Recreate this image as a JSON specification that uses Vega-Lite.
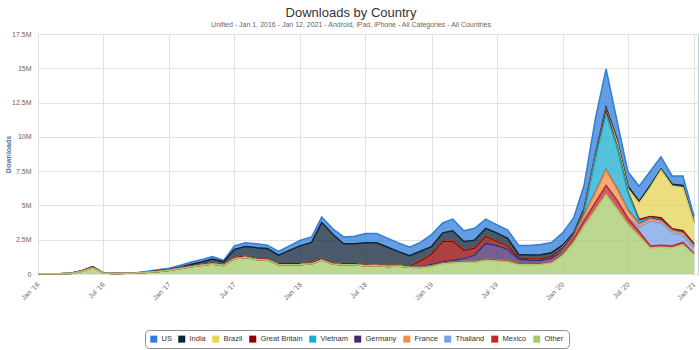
{
  "$schema": "https://vega.github.io/schema/vega-lite/v6.json",
  "width": 660,
  "height": 240,
  "autosize": {"type": "none"},
  "padding": {"left": 38, "top": 34, "right": 2, "bottom": 76},
  "background": "white",
  "title": {
    "text": "Downloads by Country",
    "subtitle": "Unified - Jan 1, 2016 - Jan 12, 2021 - Android, iPad, iPhone - All Categories - All Countries",
    "anchor": "middle",
    "frame": "bounds",
    "font": "Liberation Sans",
    "subtitleFont": "Liberation Sans",
    "fontSize": 13,
    "fontWeight": "normal",
    "color": "#333333",
    "subtitleFontSize": 7,
    "subtitleColor": "#666666",
    "subtitlePadding": 1,
    "offset": 2
  },
  "data": {
    "values": [
      {"date": "2016-01-01", "US": 0.01, "India": 0, "Brazil": 0, "Great Britain": 0, "Vietnam": 0, "Germany": 0, "France": 0, "Thailand": 0, "Mexico": 0, "Other": 0.01},
      {"date": "2016-02-01", "US": 0.005, "India": 0, "Brazil": 0, "Great Britain": 0, "Vietnam": 0, "Germany": 0, "France": 0, "Thailand": 0, "Mexico": 0, "Other": 0.015},
      {"date": "2016-03-01", "US": 0.005, "India": 0, "Brazil": 0, "Great Britain": 0, "Vietnam": 0, "Germany": 0, "France": 0, "Thailand": 0, "Mexico": 0, "Other": 0.02},
      {"date": "2016-04-01", "US": 0.01, "India": 0, "Brazil": 0, "Great Britain": 0.01, "Vietnam": 0, "Germany": 0, "France": 0, "Thailand": 0, "Mexico": 0, "Other": 0.04},
      {"date": "2016-05-01", "US": 0.01, "India": 0, "Brazil": 0, "Great Britain": 0.03, "Vietnam": 0, "Germany": 0, "France": 0, "Thailand": 0, "Mexico": 0.01, "Other": 0.18},
      {"date": "2016-06-01", "US": 0.02, "India": 0, "Brazil": 0, "Great Britain": 0.06, "Vietnam": 0, "Germany": 0, "France": 0, "Thailand": 0, "Mexico": 0.02, "Other": 0.44},
      {"date": "2016-07-01", "US": 0.01, "India": 0, "Brazil": 0, "Great Britain": 0.01, "Vietnam": 0, "Germany": 0, "France": 0, "Thailand": 0, "Mexico": 0, "Other": 0.07},
      {"date": "2016-08-01", "US": 0.01, "India": 0, "Brazil": 0, "Great Britain": 0, "Vietnam": 0, "Germany": 0, "France": 0, "Thailand": 0, "Mexico": 0, "Other": 0.04},
      {"date": "2016-09-01", "US": 0.01, "India": 0.005, "Brazil": 0, "Great Britain": 0, "Vietnam": 0, "Germany": 0, "France": 0, "Thailand": 0, "Mexico": 0, "Other": 0.05},
      {"date": "2016-10-01", "US": 0.02, "India": 0.01, "Brazil": 0, "Great Britain": 0, "Vietnam": 0, "Germany": 0, "France": 0, "Thailand": 0, "Mexico": 0, "Other": 0.07},
      {"date": "2016-11-01", "US": 0.05, "India": 0.02, "Brazil": 0, "Great Britain": 0, "Vietnam": 0, "Germany": 0, "France": 0, "Thailand": 0, "Mexico": 0, "Other": 0.13},
      {"date": "2016-12-01", "US": 0.08, "India": 0.03, "Brazil": 0, "Great Britain": 0.02, "Vietnam": 0, "Germany": 0, "France": 0, "Thailand": 0, "Mexico": 0, "Other": 0.18},
      {"date": "2017-01-01", "US": 0.09, "India": 0.03, "Brazil": 0, "Great Britain": 0.03, "Vietnam": 0, "Germany": 0, "France": 0, "Thailand": 0, "Mexico": 0, "Other": 0.27},
      {"date": "2017-02-01", "US": 0.14, "India": 0.05, "Brazil": 0, "Great Britain": 0.05, "Vietnam": 0, "Germany": 0, "France": 0, "Thailand": 0, "Mexico": 0, "Other": 0.4},
      {"date": "2017-03-01", "US": 0.16, "India": 0.13, "Brazil": 0, "Great Britain": 0.05, "Vietnam": 0, "Germany": 0, "France": 0, "Thailand": 0, "Mexico": 0, "Other": 0.52},
      {"date": "2017-04-01", "US": 0.17, "India": 0.18, "Brazil": 0, "Great Britain": 0.07, "Vietnam": 0, "Germany": 0, "France": 0, "Thailand": 0, "Mexico": 0, "Other": 0.63},
      {"date": "2017-05-01", "US": 0.17, "India": 0.3, "Brazil": 0, "Great Britain": 0.08, "Vietnam": 0, "Germany": 0, "France": 0, "Thailand": 0, "Mexico": 0, "Other": 0.72},
      {"date": "2017-06-01", "US": 0.09, "India": 0.19, "Brazil": 0, "Great Britain": 0.07, "Vietnam": 0, "Germany": 0, "France": 0, "Thailand": 0, "Mexico": 0, "Other": 0.63},
      {"date": "2017-07-01", "US": 0.25, "India": 0.6, "Brazil": 0, "Great Britain": 0.08, "Vietnam": 0, "Germany": 0, "France": 0, "Thailand": 0, "Mexico": 0, "Other": 1.12},
      {"date": "2017-08-01", "US": 0.27, "India": 0.7, "Brazil": 0, "Great Britain": 0.08, "Vietnam": 0, "Germany": 0, "France": 0, "Thailand": 0, "Mexico": 0, "Other": 1.22},
      {"date": "2017-09-01", "US": 0.28, "India": 0.8, "Brazil": 0, "Great Britain": 0.07, "Vietnam": 0, "Germany": 0, "France": 0, "Thailand": 0, "Mexico": 0, "Other": 1.05},
      {"date": "2017-10-01", "US": 0.24, "India": 0.76, "Brazil": 0, "Great Britain": 0.08, "Vietnam": 0, "Germany": 0, "France": 0, "Thailand": 0, "Mexico": 0, "Other": 1.02},
      {"date": "2017-11-01", "US": 0.28, "India": 0.63, "Brazil": 0, "Great Britain": 0.07, "Vietnam": 0, "Germany": 0, "France": 0, "Thailand": 0, "Mexico": 0, "Other": 0.67},
      {"date": "2017-12-01", "US": 0.33, "India": 0.97, "Brazil": 0, "Great Britain": 0.07, "Vietnam": 0, "Germany": 0, "France": 0, "Thailand": 0, "Mexico": 0, "Other": 0.68},
      {"date": "2018-01-01", "US": 0.39, "India": 1.3, "Brazil": 0, "Great Britain": 0.07, "Vietnam": 0, "Germany": 0, "France": 0, "Thailand": 0, "Mexico": 0, "Other": 0.7},
      {"date": "2018-02-01", "US": 0.4, "India": 1.49, "Brazil": 0, "Great Britain": 0.07, "Vietnam": 0, "Germany": 0, "France": 0, "Thailand": 0, "Mexico": 0, "Other": 0.74},
      {"date": "2018-03-01", "US": 0.4, "India": 2.65, "Brazil": 0, "Great Britain": 0.08, "Vietnam": 0, "Germany": 0, "France": 0, "Thailand": 0, "Mexico": 0, "Other": 1.02},
      {"date": "2018-04-01", "US": 0.4, "India": 2.12, "Brazil": 0, "Great Britain": 0.06, "Vietnam": 0, "Germany": 0, "France": 0, "Thailand": 0, "Mexico": 0, "Other": 0.72},
      {"date": "2018-05-01", "US": 0.5, "India": 1.45, "Brazil": 0, "Great Britain": 0.07, "Vietnam": 0, "Germany": 0, "France": 0, "Thailand": 0, "Mexico": 0, "Other": 0.68},
      {"date": "2018-06-01", "US": 0.55, "India": 1.45, "Brazil": 0, "Great Britain": 0.07, "Vietnam": 0, "Germany": 0, "France": 0, "Thailand": 0, "Mexico": 0, "Other": 0.68},
      {"date": "2018-07-01", "US": 0.68, "India": 1.62, "Brazil": 0, "Great Britain": 0.05, "Vietnam": 0, "Germany": 0, "France": 0, "Thailand": 0, "Mexico": 0, "Other": 0.6},
      {"date": "2018-08-01", "US": 0.68, "India": 1.61, "Brazil": 0, "Great Britain": 0.04, "Vietnam": 0, "Germany": 0, "France": 0, "Thailand": 0, "Mexico": 0, "Other": 0.62},
      {"date": "2018-09-01", "US": 0.65, "India": 1.33, "Brazil": 0, "Great Britain": 0.07, "Vietnam": 0, "Germany": 0, "France": 0, "Thailand": 0, "Mexico": 0, "Other": 0.55},
      {"date": "2018-10-01", "US": 0.64, "India": 0.99, "Brazil": 0, "Great Britain": 0.06, "Vietnam": 0, "Germany": 0, "France": 0, "Thailand": 0, "Mexico": 0, "Other": 0.58},
      {"date": "2018-11-01", "US": 0.62, "India": 0.77, "Brazil": 0, "Great Britain": 0.06, "Vietnam": 0, "Germany": 0, "France": 0, "Thailand": 0, "Mexico": 0, "Other": 0.5},
      {"date": "2018-12-01", "US": 0.64, "India": 0.71, "Brazil": 0, "Great Britain": 0.42, "Vietnam": 0, "Germany": 0.05, "France": 0, "Thailand": 0, "Mexico": 0.03, "Other": 0.45},
      {"date": "2019-01-01", "US": 0.87, "India": 0.55, "Brazil": 0, "Great Britain": 0.75, "Vietnam": 0, "Germany": 0.09, "France": 0.02, "Thailand": 0, "Mexico": 0.04, "Other": 0.55},
      {"date": "2019-02-01", "US": 0.72, "India": 0.65, "Brazil": 0, "Great Britain": 1.45, "Vietnam": 0, "Germany": 0.09, "France": 0.02, "Thailand": 0, "Mexico": 0.04, "Other": 0.75},
      {"date": "2019-03-01", "US": 0.85, "India": 0.75, "Brazil": 0, "Great Britain": 1.4, "Vietnam": 0, "Germany": 0.13, "France": 0.02, "Thailand": 0, "Mexico": 0.05, "Other": 0.8},
      {"date": "2019-04-01", "US": 0.78, "India": 0.65, "Brazil": 0, "Great Britain": 0.6, "Vietnam": 0, "Germany": 0.2, "France": 0.02, "Thailand": 0, "Mexico": 0.05, "Other": 0.85},
      {"date": "2019-05-01", "US": 0.86, "India": 0.6, "Brazil": 0, "Great Britain": 0.5, "Vietnam": 0, "Germany": 0.45, "France": 0.02, "Thailand": 0, "Mexico": 0.05, "Other": 0.85},
      {"date": "2019-06-01", "US": 0.67, "India": 0.6, "Brazil": 0, "Great Britain": 0.5, "Vietnam": 0, "Germany": 1.15, "France": 0.03, "Thailand": 0, "Mexico": 0.05, "Other": 1.0},
      {"date": "2019-07-01", "US": 0.6, "India": 0.62, "Brazil": 0, "Great Britain": 0.3, "Vietnam": 0, "Germany": 1.05, "France": 0.03, "Thailand": 0, "Mexico": 0.05, "Other": 0.95},
      {"date": "2019-08-01", "US": 0.6, "India": 0.53, "Brazil": 0, "Great Britain": 0.27, "Vietnam": 0, "Germany": 0.82, "France": 0.03, "Thailand": 0, "Mexico": 0.05, "Other": 0.9},
      {"date": "2019-09-01", "US": 0.65, "India": 0.24, "Brazil": 0, "Great Britain": 0.13, "Vietnam": 0, "Germany": 0.3, "France": 0.02, "Thailand": 0, "Mexico": 0.05, "Other": 0.68},
      {"date": "2019-10-01", "US": 0.69, "India": 0.28, "Brazil": 0, "Great Britain": 0.1, "Vietnam": 0, "Germany": 0.25, "France": 0.02, "Thailand": 0, "Mexico": 0.05, "Other": 0.68},
      {"date": "2019-11-01", "US": 0.75, "India": 0.28, "Brazil": 0, "Great Britain": 0.12, "Vietnam": 0, "Germany": 0.23, "France": 0.02, "Thailand": 0, "Mexico": 0.05, "Other": 0.7},
      {"date": "2019-12-01", "US": 0.75, "India": 0.25, "Brazil": 0, "Great Britain": 0.15, "Vietnam": 0, "Germany": 0.25, "France": 0.03, "Thailand": 0, "Mexico": 0.07, "Other": 0.8},
      {"date": "2020-01-01", "US": 0.9, "India": 0.15, "Brazil": 0.05, "Great Britain": 0.15, "Vietnam": 0.1, "Germany": 0.1, "France": 0.05, "Thailand": 0.03, "Mexico": 0.12, "Other": 1.35},
      {"date": "2020-02-01", "US": 1.1, "India": 0.15, "Brazil": 0.03, "Great Britain": 0.07, "Vietnam": 0.07, "Germany": 0.03, "France": 0.07, "Thailand": 0.03, "Mexico": 0.25, "Other": 2.3},
      {"date": "2020-03-01", "US": 1.7, "India": 0.2, "Brazil": 0.05, "Great Britain": 0.1, "Vietnam": 0.17, "Germany": 0.03, "France": 0.33, "Thailand": 0.02, "Mexico": 0.4, "Other": 3.5},
      {"date": "2020-04-01", "US": 2.6, "India": 0.15, "Brazil": 0.05, "Great Britain": 0.1, "Vietnam": 2.45, "Germany": 0.05, "France": 0.68, "Thailand": 0.02, "Mexico": 0.55, "Other": 4.65},
      {"date": "2020-05-01", "US": 2.8, "India": 0.2, "Brazil": 0.05, "Great Britain": 0.25, "Vietnam": 4.05, "Germany": 0.05, "France": 1.08, "Thailand": 0.02, "Mexico": 0.65, "Other": 5.8},
      {"date": "2020-06-01", "US": 1.3, "India": 0.2, "Brazil": 0.3, "Great Britain": 0.1, "Vietnam": 3.0, "Germany": 0.05, "France": 0.75, "Thailand": 0.05, "Mexico": 0.65, "Other": 4.7},
      {"date": "2020-07-01", "US": 1.05, "India": 0.2, "Brazil": 0.2, "Great Britain": 0.1, "Vietnam": 1.25, "Germany": 0.05, "France": 0.5, "Thailand": 0.05, "Mexico": 0.45, "Other": 3.6},
      {"date": "2020-08-01", "US": 1.1, "India": 0.15, "Brazil": 1.18, "Great Britain": 0.12, "Vietnam": 0.2, "Germany": 0.05, "France": 0.2, "Thailand": 0.3, "Mexico": 0.35, "Other": 2.75},
      {"date": "2020-09-01", "US": 1.05, "India": 0.15, "Brazil": 2.1, "Great Britain": 0.1, "Vietnam": 0.05, "Germany": 0.05, "France": 0.15, "Thailand": 1.8, "Mexico": 0.15, "Other": 1.9},
      {"date": "2020-10-01", "US": 0.9, "India": 0.1, "Brazil": 3.45, "Great Britain": 0.15, "Vietnam": 0.05, "Germany": 0.05, "France": 0.15, "Thailand": 1.6, "Mexico": 0.15, "Other": 1.95},
      {"date": "2020-11-01", "US": 0.6, "India": 0.15, "Brazil": 3.1, "Great Britain": 0.08, "Vietnam": 0.02, "Germany": 0.05, "France": 0.15, "Thailand": 0.95, "Mexico": 0.15, "Other": 1.9},
      {"date": "2020-12-01", "US": 0.7, "India": 0.15, "Brazil": 3.15, "Great Britain": 0.13, "Vietnam": 0.02, "Germany": 0.05, "France": 0.15, "Thailand": 0.5, "Mexico": 0.15, "Other": 2.15},
      {"date": "2021-01-01", "US": 0.4, "India": 0.1, "Brazil": 1.5, "Great Britain": 0.13, "Vietnam": 0.02, "Germany": 0.05, "France": 0.1, "Thailand": 0.4, "Mexico": 0.1, "Other": 1.4}
    ]
  },
  "encoding": {
    "x": {
      "field": "date",
      "type": "temporal",
      "scale": {
        "type": "utc",
        "domain": [
          {"year": 2016, "month": 1, "date": 1, "utc": true},
          {"year": 2021, "month": 1, "date": 12, "utc": true}
        ]
      },
      "axis": {
        "title": null,
        "format": "%b '%y",
        "values": [
          {"year": 2016, "month": 1, "date": 1, "utc": true},
          {"year": 2016, "month": 7, "date": 1, "utc": true},
          {"year": 2017, "month": 1, "date": 1, "utc": true},
          {"year": 2017, "month": 7, "date": 1, "utc": true},
          {"year": 2018, "month": 1, "date": 1, "utc": true},
          {"year": 2018, "month": 7, "date": 1, "utc": true},
          {"year": 2019, "month": 1, "date": 1, "utc": true},
          {"year": 2019, "month": 7, "date": 1, "utc": true},
          {"year": 2020, "month": 1, "date": 1, "utc": true},
          {"year": 2020, "month": 7, "date": 1, "utc": true},
          {"year": 2021, "month": 1, "date": 1, "utc": true}
        ],
        "labelAngle": -45,
        "labelAlign": "right",
        "labelBaseline": "middle",
        "labelPadding": 9,
        "labelOverlap": false,
        "labelFlush": false
      }
    },
    "y": {
      "field": "v1",
      "type": "quantitative",
      "scale": {"domain": [0, 17.5], "nice": false},
      "axis": {
        "title": "Downloads",
        "values": [0, 2.5, 5, 7.5, 10, 12.5, 15, 17.5],
        "labelExpr": "datum.value == 0 ? '0' : format(datum.value, '~g') + 'M'",
        "labelPadding": 7,
        "labelOverlap": false,
        "labelFlush": false,
        "labelBound": false,
        "titleColor": "#4d759e",
        "titleFontWeight": "bold",
        "titleFontSize": 7,
        "titleX": -30,
        "titleY": 120,
        "titleAngle": -90,
        "titleAlign": "center",
        "titleBaseline": "middle"
      }
    }
  },
  "layer": [
    {
      "transform": [
        {"fold": ["US", "India", "Brazil", "Great Britain", "Vietnam", "Germany", "France", "Thailand", "Mexico", "Other"], "as": ["country", "value"]},
        {"window": [{"op": "row_number", "as": "rank"}], "groupby": ["date"]},
        {"stack": "value", "groupby": ["date"], "sort": [{"field": "rank", "order": "descending"}], "as": ["v0", "v1"]}
      ],
      "encoding": {
        "color": {
          "field": "country",
          "type": "nominal",
          "scale": {
            "domain": ["US", "India", "Brazil", "Great Britain", "Vietnam", "Germany", "France", "Thailand", "Mexico", "Other"],
            "range": ["#2f7ed8", "#0d233a", "#e4d354", "#910000", "#1aadce", "#492970", "#f28f43", "#77a1e5", "#c42525", "#a6c96a"]
          },
          "legend": {
            "title": null,
            "orient": "none",
            "legendX": 107,
            "legendY": 296,
            "direction": "horizontal",
            "symbolType": "square",
            "symbolSize": 49,
            "symbolStrokeWidth": 0,
            "symbolOpacity": 1,
            "labelFontSize": 7.5,
            "labelColor": "#333333",
            "labelOffset": 4,
            "columnPadding": 6,
            "padding": 5,
            "strokeColor": "#909090",
            "cornerRadius": 4,
            "fillColor": "white"
          }
        }
      },
      "layer": [
        {
          "mark": {"type": "area", "fillOpacity": 0.75, "interpolate": "linear"},
          "encoding": {
            "y2": {"field": "v0"}
          }
        },
        {
          "mark": {"type": "line", "strokeWidth": 1.5, "interpolate": "linear"}
        }
      ]
    },
    {
      "data": {"values": [{}]},
      "mark": {"type": "point", "shape": "circle", "filled": true, "size": 218, "color": "#cfe9e4", "stroke": "#b5dcd4", "strokeWidth": 1, "opacity": 1},
      "encoding": {
        "x": {"datum": {"year": 2016, "month": 3, "date": 7, "utc": true}, "type": "temporal"},
        "y": {"datum": 16.37, "type": "quantitative"}
      }
    },
    {
      "data": {"values": [{}]},
      "mark": {"type": "text", "text": "Sensor", "align": "left", "baseline": "middle", "fontSize": 9.5, "color": "#a3b7b4", "font": "Liberation Sans"},
      "encoding": {
        "x": {"datum": {"year": 2016, "month": 4, "date": 4, "utc": true}, "type": "temporal"},
        "y": {"datum": 16.37, "type": "quantitative"}
      }
    },
    {
      "data": {"values": [{}]},
      "mark": {"type": "text", "text": "Tower", "align": "left", "baseline": "middle", "fontSize": 9.5, "color": "#b3e0d8", "font": "Liberation Sans"},
      "encoding": {
        "x": {"datum": {"year": 2016, "month": 6, "date": 26, "utc": true}, "type": "temporal"},
        "y": {"datum": 16.37, "type": "quantitative"}
      }
    }
  ],
  "config": {
    "font": "Liberation Sans",
    "view": {"stroke": "#c0d0e0", "strokeWidth": 1},
    "axis": {
      "labelFont": "Liberation Sans",
      "labelColor": "#666666",
      "labelFontSize": 7,
      "labelOverlap": false,
      "gridColor": "#e2e2e2",
      "gridWidth": 1,
      "domain": false,
      "ticks": false
    },
    "legend": {"labelFont": "Liberation Sans"}
  }
}
